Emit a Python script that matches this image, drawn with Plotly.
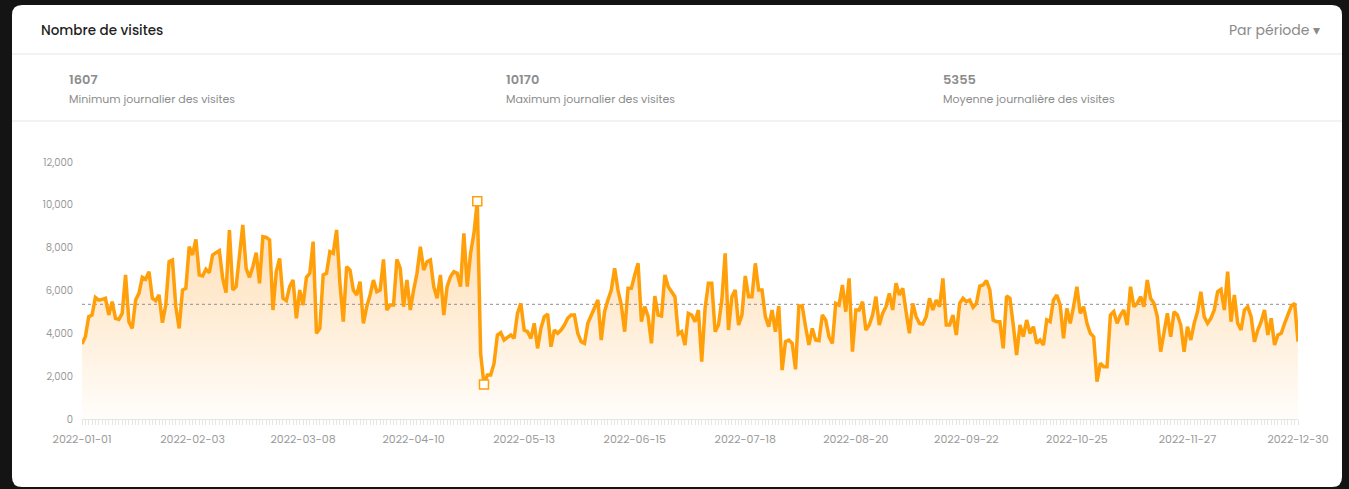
import plotly.graph_objects as go
import pandas as pd

# ---------------- data ----------------
start_date = "2022-01-01"

visits_q1 = [3500, 3843, 4778, 4855, 5680, 5556, 5587, 5634, 4855, 5478,
             4700, 4653, 4933, 6724, 4544, 4232, 5556, 5867, 6615, 6522,
             6880, 5634, 5525, 5790, 4497, 5322, 7346, 7424, 5245, 4232,
             6023, 6101, 8047, 7658, 8390, 6724, 6677, 6989, 6833, 7658,
             7767, 7860, 6568, 5898, 8826, 6023, 6179, 7580, 9059, 7035,
             6615, 7113, 7767, 6335, 8514, 8483, 8359, 5089, 6880, 7502,
             5634, 5525, 6179, 6490, 4700, 6023, 5322, 6615, 6802, 8281,
             3999, 4232, 6724, 6802, 7814, 7736, 8826, 6335, 4544, 7113,
             6958, 6023, 5790, 6412, 4466, 5245, 5790, 6490, 5945, 6023]

visits_q2 = [7455, 5089, 5322, 5322, 7455, 7035, 5245, 6490, 5089, 6023,
             6802, 8047, 6958, 7346, 7424, 6179, 5634, 6724, 4855, 6179,
             6646, 6880, 6802, 6179, 8670, 6179, 7736, 8670, 10170, 3065,
             1607, 2053, 2053, 2598, 3921, 4030, 3688, 3812, 3921, 3766,
             4933, 5400, 4155, 4077, 3766, 4466, 3298, 4232, 4778, 4902,
             3376, 4155, 3999, 4155, 4388, 4700, 4855, 4855, 3999, 3610,
             3532, 4466, 4809, 5167, 5556, 3688, 5011, 5556, 6023, 7035,
             6023, 5322, 4077, 6101, 6101, 6724, 7269, 4544, 5245, 4778,
             3532, 5743, 4855, 4809, 6724, 6179, 5945, 5712, 3968, 4077,
             3454]

visits_q3 = [4933, 4855, 4544, 5089, 2675, 5167, 6335, 6335, 4077, 4388,
             5556, 7736, 4155, 5712, 6023, 4388, 4855, 6677, 5712, 5712,
             7269, 6023, 6023, 4778, 4310, 5089, 4077, 5276, 2286, 3610,
             3688, 3532, 2317, 5276, 5276, 4310, 3454, 4232, 3688, 3657,
             4855, 4622, 3843, 3532, 5400, 5322, 6257, 5011, 6568, 3143,
             5089, 5089, 5478, 4155, 4388, 4855, 5712, 4388, 4933, 5245,
             5867, 5089, 6335, 5790, 6101, 5011, 3999, 5400, 4778, 4466,
             4435, 4778, 5634, 5089, 5556, 5245, 6568, 4388, 4388, 4855,
             3921, 5400, 5634, 5478, 5556, 5214, 5400, 6210, 6257, 6459,
             6023, 4622]

visits_q4 = [4544, 4544, 3298, 5743, 5634, 4388, 2987, 4388, 3843, 4622,
             3999, 4310, 3532, 3688, 3454, 4622, 4544, 5556, 5790, 5322,
             3766, 5167, 4466, 5245, 6179, 4933, 5245, 4466, 3999, 3843,
             1741, 2598, 2442, 2442, 4855, 5011, 4466, 4855, 5089, 4388,
             6179, 5245, 5400, 5712, 5245, 6490, 5634, 5400, 4778, 3143,
             4155, 4933, 3843, 5011, 4855, 4388, 3143, 4310, 3688, 4466,
             5011, 5945, 4778, 4466, 4700, 5089, 5945, 6054, 5089, 6880,
             4544, 5790, 4466, 4155, 5089, 5245, 4778, 3610, 4155, 4544,
             5089, 3921, 4700, 3454, 3921, 3999, 4466, 4855, 5276, 5400,
             3610]

tick_labels = ["2022-01-01", "2022-02-03", "2022-03-08", "2022-04-10",
               "2022-05-13", "2022-06-15", "2022-07-18", "2022-08-20",
               "2022-09-22", "2022-10-25", "2022-11-27", "2022-12-30"]
y_ticks = [0, 2000, 4000, 6000, 8000, 10000, 12000]

stat_values = ["1607", "10170", "5355"]
stat_labels = ["Minimum journalier des visites",
               "Maximum journalier des visites",
               "Moyenne journalière des visites"]
mean_value = 5355

title_text = "Nombre de visites"
period_text = "Par période \u25BE"

# ---------------- build ----------------
visits = visits_q1 + visits_q2 + visits_q3 + visits_q4
dates = pd.date_range(start_date, periods=len(visits), freq="D")
imax = max(range(len(visits)), key=lambda i: visits[i])
imin = min(range(len(visits)), key=lambda i: visits[i])

W, H = 1349, 489
L, R, T, B = 82, 51, 162, 70
PW, PH = W - L - R, H - T - B
BG = "#141414"

def px(x):
    return (x - L) / PW

def py(y):
    return (H - B - y) / PH

ORANGE = "#FF9F0A"
FONT = "Poppins, Inter, 'Open Sans', sans-serif"

fig = go.Figure()

# gradient fill
fig.add_trace(go.Scatter(
    x=dates, y=visits, mode="lines", line=dict(width=0, color=ORANGE),
    fill="tozeroy",
    fillgradient=dict(type="vertical", start=0, stop=10000,
                      colorscale=[[0, "rgba(255,160,40,0.02)"],
                                  [1, "rgba(255,160,40,0.38)"]]),
    hoverinfo="skip", showlegend=False))

# mean line
fig.add_trace(go.Scatter(
    x=[dates[0], dates[-1]], y=[mean_value, mean_value], mode="lines",
    line=dict(color="#8f8f8f", width=1, dash="dot"),
    hoverinfo="skip", showlegend=False))

# main line
fig.add_trace(go.Scatter(
    x=dates, y=visits, mode="lines",
    line=dict(color=ORANGE, width=3.5),
    showlegend=False))

# min / max markers
fig.add_trace(go.Scatter(
    x=[dates[imax], dates[imin]], y=[visits[imax], visits[imin]],
    mode="markers",
    marker=dict(symbol="square", size=9, color="white",
                line=dict(color=ORANGE, width=1.5)),
    cliponaxis=False, showlegend=False))

# card background (rounded rectangle)
cx0, cx1, cy0, cy1, r = 12, 1342, 5, 487, 10
path = (f"M {px(cx0 + r)},{py(cy0)} L {px(cx1 - r)},{py(cy0)} "
        f"Q {px(cx1)},{py(cy0)} {px(cx1)},{py(cy0 + r)} "
        f"L {px(cx1)},{py(cy1 - r)} Q {px(cx1)},{py(cy1)} {px(cx1 - r)},{py(cy1)} "
        f"L {px(cx0 + r)},{py(cy1)} Q {px(cx0)},{py(cy1)} {px(cx0)},{py(cy1 - r)} "
        f"L {px(cx0)},{py(cy0 + r)} Q {px(cx0)},{py(cy0)} {px(cx0 + r)},{py(cy0)} Z")
shapes = [dict(type="path", path=path, xref="paper", yref="paper",
               fillcolor="white", line=dict(width=0), layer="below")]
for yline in (54, 121):
    shapes.append(dict(type="line", xref="paper", yref="paper",
                       x0=px(cx0), x1=px(cx1), y0=py(yline), y1=py(yline),
                       line=dict(color="#e6e6e6", width=1), layer="below"))

annotations = [
    dict(text=title_text, x=px(39), y=py(30), xref="paper", yref="paper",
         xanchor="left", yanchor="middle", showarrow=False,
         font=dict(family=FONT, size=13.5, color="#1f1f1f", weight=500)),
    dict(text=period_text, x=px(1322), y=py(30), xref="paper", yref="paper",
         xanchor="right", yanchor="middle", showarrow=False,
         font=dict(family=FONT, size=14, color="#8a8a8a")),
]
for sx, v, lab in zip((67, 504, 941), stat_values, stat_labels):
    annotations.append(dict(text=v, x=px(sx), y=py(79), xref="paper", yref="paper",
                            xanchor="left", yanchor="middle", showarrow=False,
                            font=dict(family=FONT, size=13, color="#8c8c8c", weight=600)))
    annotations.append(dict(text=lab, x=px(sx), y=py(99), xref="paper", yref="paper",
                            xanchor="left", yanchor="middle", showarrow=False,
                            font=dict(family=FONT, size=11, color="#8c8c8c")))

fig.update_layout(
    width=W, height=H,
    margin=dict(l=L, r=R, t=T, b=B, pad=0),
    paper_bgcolor=BG,
    plot_bgcolor="rgba(0,0,0,0)",
    shapes=shapes,
    annotations=annotations,
    showlegend=False,
    font=dict(family=FONT),
    xaxis=dict(
        type="date", range=[dates[0], dates[-1]],
        tickvals=list(pd.to_datetime(tick_labels)), ticktext=tick_labels,
        ticks="outside", ticklen=5, tickcolor="#e3e3e3", tickwidth=1,
        showline=True, linecolor="#e6e6e6", linewidth=1,
        showgrid=False, zeroline=False,
        ticklabelstandoff=5,
        tickfont=dict(family=FONT, size=11, color="#9a9a9a"),
        minor=dict(dtick=86400000, tick0=start_date, ticks="outside",
                   ticklen=5, tickcolor="#e6e6e6", tickwidth=1, showgrid=False),
    ),
    yaxis=dict(
        range=[0, 12000], tickvals=y_ticks, tickformat=",",
        showgrid=False, zeroline=False, showline=False, ticks="",
        ticklabelstandoff=8,
        tickfont=dict(family=FONT, size=10, color="#9a9a9a"),
    ),
)

post = (f"document.body.style.margin='0';"
        f"document.body.style.padding='0';"
        f"document.body.style.background='{BG}';")
fig.write_html("out.html", post_script=post,
               config={"displayModeBar": False})
